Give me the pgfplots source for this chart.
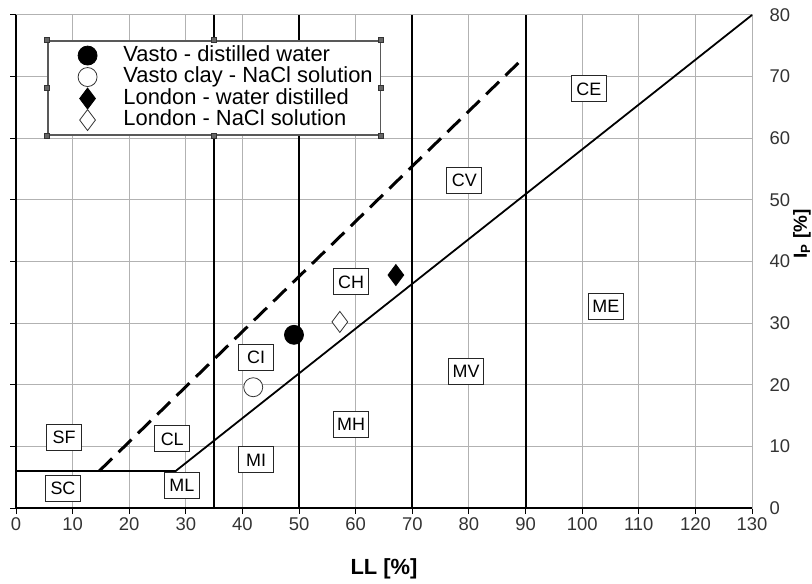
\documentclass[border=0pt]{standalone}
\usepackage{pgfplots}
\pgfplotsset{compat=1.18}
\usepackage{fontspec}
\setmainfont{Liberation Sans}
\begin{document}
\begin{tikzpicture}
\path[use as bounding box] (-16bp,-76bp) rectangle (796bp,508bp);
\tikzset{rl/.style={draw=black!85, line width=1bp, fill=white, font=\fontsize{18}{18}\selectfont, minimum width=35bp, minimum height=26bp, inner sep=1bp}}
\begin{axis}[
 at={(0,0)}, anchor=south west,
 scale only axis, width=736bp, height=493bp,
 xmin=0,xmax=130,ymin=0,ymax=80,
 xtick distance=10, ytick distance=10,
 grid=major, grid style={color=black!30, line width=1bp},
 axis line style={black!30, line width=1bp},
 xtick pos=bottom, ytick pos=left, yticklabel pos=right,
 tick align=outside, major tick length=6bp,
 tick style={black, line width=1bp},
 /pgf/number format/assume math mode=true,
 ticklabel style={font=\fontsize{18.5}{18.5}\selectfont, text=black!80},
 yticklabel style={xshift=8bp},
 xlabel={LL [\%]}, ylabel={I\textsubscript{P} [\%]},
 every axis x label/.style={at={(axis description cs:0.5,0)}, anchor=center, yshift=-61bp, font=\fontsize{22}{22}\selectfont\bfseries},
 every axis y label/.style={at={(axis description cs:1.068,0.556)}, rotate=90, anchor=center, font=\fontsize{19}{19}\selectfont\bfseries},
 legend style={at={(axis description cs:0.0421,0.9493)}, anchor=north west, draw=black!65, line width=1.6bp, fill=white, font=\fontsize{22}{22}\selectfont, row sep=0bp, inner xsep=6bp, inner ysep=4bp, nodes={text height=16bp, text depth=4.5bp, inner ysep=0.5bp}},
 legend cell align=left,
 legend image code/.code={\path (0bp,0bp) (66bp,0bp); \draw[#1] plot coordinates {(33bp,0bp)};},
 clip=false,
]
\addplot[forget plot, black, line width=2bp] coordinates {(35,0) (35,80)};
\addplot[forget plot, black, line width=2bp] coordinates {(50,0) (50,80)};
\addplot[forget plot, black, line width=2bp] coordinates {(70,0) (70,80)};
\addplot[forget plot, black, line width=2bp] coordinates {(90,0) (90,80)};
\addplot[forget plot, black, line width=1.8bp] coordinates {(0,6) (28.2,6) (130,80)};
\addplot[forget plot, black, line width=3bp, dash pattern=on 18bp off 9bp] coordinates {(14.7,6) (89.6,73)};
\draw[black, line width=1.3bp] (axis cs:0,80) -- (axis cs:0,0) -- (axis cs:130,0);

\node[rl] at (axis cs:8.5,11.4) {SF};
\node[rl] at (axis cs:8.3,3.2) {SC};
\node[rl] at (axis cs:27.6,11.2) {CL};
\node[rl] at (axis cs:29.3,3.6) {ML};
\node[rl] at (axis cs:42.4,7.8) {MI};
\node[rl] at (axis cs:42.4,24.5) {CI};
\node[rl] at (axis cs:59.2,13.6) {MH};
\node[rl] at (axis cs:59.2,36.7) {CH};
\node[rl] at (axis cs:79.5,22.1) {MV};
\node[rl] at (axis cs:79.2,53.2) {CV};
\node[rl] at (axis cs:104.2,32.7) {ME};
\node[rl] at (axis cs:101.2,68.0) {CE};

\addplot[only marks, mark=*, mark size=9.5bp, mark options={fill=black, draw=black, line width=0.8bp}] coordinates {(49.1,28.1)};
\addlegendentry{Vasto - distilled water}
\addplot[only marks, mark=*, mark size=9.5bp, mark options={fill=white, draw=black!80, line width=0.8bp}] coordinates {(41.9,19.6)};
\addlegendentry{Vasto clay - NaCl solution}
\addplot[only marks, mark=diamond*, mark size=10.5bp, mark options={fill=black, draw=black, line width=0.8bp}] coordinates {(67.1,37.8)};
\addlegendentry{London - water distilled}
\addplot[only marks, mark=diamond*, mark size=10.5bp, mark options={fill=white, draw=black!80, line width=0.8bp}] coordinates {(57.2,30.2)};
\addlegendentry{London - NaCl solution}
\end{axis}
\foreach \p in {(31bp,468bp),(365bp,468bp),(198bp,468bp),(31bp,372bp),(365bp,372bp),(198bp,372bp),(31bp,420bp),(365bp,420bp)}
  \filldraw[fill=black!60, draw=black!80, line width=0.5bp] \p ++(-2.5bp,-2.5bp) rectangle ++(5bp,5bp);
\end{tikzpicture}
\end{document}
